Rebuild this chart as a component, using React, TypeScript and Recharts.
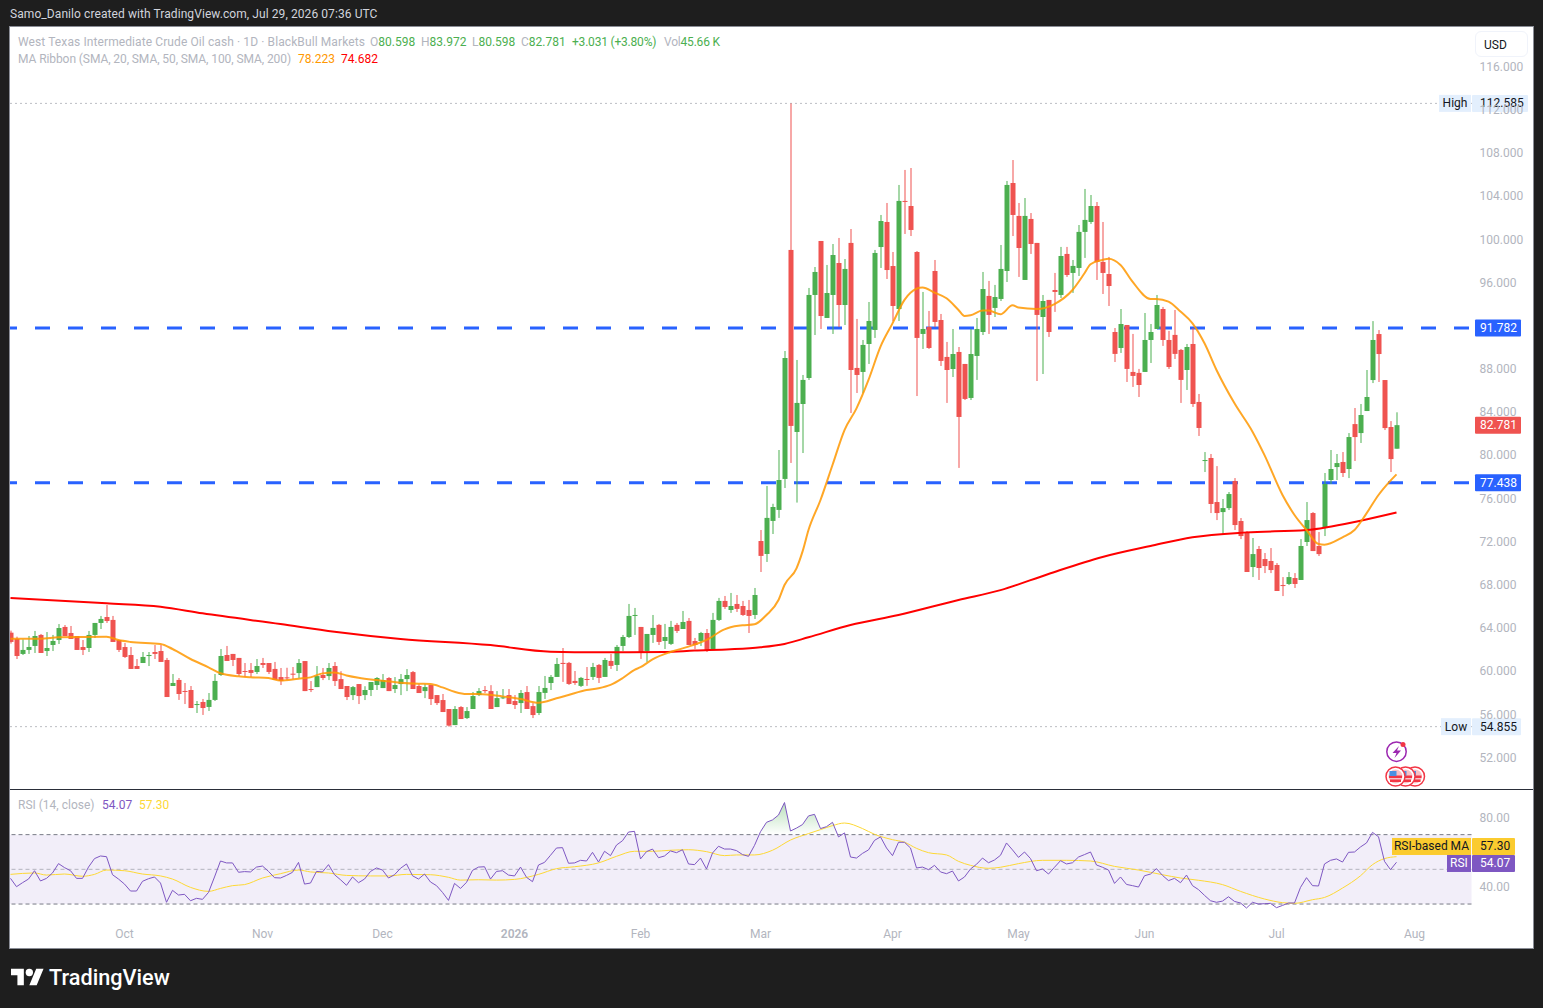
import {
  Area,
  Bar,
  ComposedChart,
  Line,
  ReferenceArea,
  ReferenceLine,
  XAxis,
  YAxis,
} from 'recharts';

// WTI daily candles
const opens = [
  63.56,62.98,61.59,61.96,62.33,63.35,61.86,62.42,62.88,64.09,
  63.53,63.25,62.23,62.14,63.35,64.46,65.01,64.74,62.88,62.23,
  61.49,60.47,60.75,61.40,61.77,61.86,61.03,58.62,59.18,58.16,
  58.25,56.89,57.14,56.68,57.33,59.64,61.49,61.59,61.22,60.01,
  60.10,59.92,60.75,60.75,60.20,59.45,59.42,59.76,59.82,60.93,
  58.34,58.52,59.64,59.54,60.47,59.26,58.62,57.78,58.80,57.78,
  58.25,58.71,58.43,59.36,58.34,58.80,59.26,59.91,58.62,58.15,
  58.71,57.78,57.32,56.49,55.00,56.67,55.65,56.49,57.78,58.25,
  58.15,56.67,57.50,57.78,57.23,57.04,58.06,56.76,56.12,57.98,
  58.90,59.46,60.76,60.76,59.09,58.63,59.27,59.46,60.57,59.46,
  60.94,60.57,62.33,63.16,65.14,64.09,61.87,63.35,64.28,62.79,
  62.52,64.28,63.90,64.65,62.79,62.79,63.53,62.05,64.74,66.50,
  65.66,66.22,66.03,65.66,65.20,72.05,70.85,73.91,74.93,77.80,
  99.01,82.15,84.74,87.15,94.84,99.84,92.71,94.84,97.80,93.91,
  99.66,88.08,87.71,90.30,91.60,99.28,101.60,97.52,93.54,103.55,
  103.08,98.82,91.23,91.87,97.06,92.52,89.10,87.98,89.56,88.45,
  85.30,89.19,91.41,94.75,93.64,94.47,97.06,105.21,102.16,96.23,
  101.88,99.66,92.80,94.38,95.30,94.84,98.64,96.88,97.34,100.68,
  101.60,103.08,97.90,96.78,91.41,89.93,92.06,87.71,87.62,87.71,
  90.67,91.69,93.54,90.67,91.14,89.75,87.89,90.30,84.93,79.46,
  79.74,75.66,74.73,75.10,77.61,73.90,72.88,69.64,71.31,70.38,
  70.20,69.83,67.97,68.07,68.62,68.44,71.96,74.64,71.59,73.25,
  77.70,78.90,79.37,78.72,82.88,82.05,84.09,86.96,91.22,86.96,
  82.61,80.598,
];

const closes = [
  62.70,61.40,61.96,62.23,63.25,61.68,62.14,62.79,63.99,63.25,
  62.98,61.96,61.96,63.35,64.46,64.83,64.64,62.70,61.96,61.31,
  60.20,60.20,61.31,61.49,61.59,60.85,57.60,58.90,57.88,58.07,
  56.58,56.95,56.58,57.33,59.09,61.40,60.94,61.03,59.73,59.92,
  59.83,60.47,60.57,59.92,59.18,59.08,59.36,59.70,60.75,58.15,
  58.25,59.54,59.36,60.29,59.08,58.34,57.60,58.52,57.69,58.25,
  58.99,59.36,59.17,58.15,58.71,59.26,59.64,58.34,57.97,58.52,
  57.41,57.04,56.21,54.95,56.49,55.56,56.30,57.69,58.15,58.15,
  56.49,57.50,57.57,56.95,56.86,57.97,56.49,55.93,58.06,58.44,
  59.46,60.66,60.66,58.81,58.90,59.37,59.21,60.38,59.37,61.03,
  60.48,62.24,63.16,65.11,65.20,61.77,63.44,64.00,62.70,63.16,
  64.09,63.72,64.55,62.42,62.42,63.53,61.96,64.74,66.50,65.94,
  66.03,65.76,65.20,65.11,67.05,70.67,74.19,75.20,77.70,89.00,
  82.71,84.84,86.97,94.84,96.97,92.89,95.02,98.54,93.91,97.25,
  87.89,87.43,90.21,92.43,98.73,101.69,97.15,93.82,103.55,103.48,
  100.86,90.86,91.69,89.93,92.34,88.73,87.89,89.37,83.54,85.21,
  89.37,91.69,95.39,92.99,94.65,97.25,105.03,102.25,99.19,102.16,
  99.56,92.99,94.28,91.41,95.12,98.45,96.69,97.53,100.68,101.79,
  103.08,97.90,96.88,95.67,89.38,92.15,87.99,87.34,86.50,90.67,
  91.41,93.91,90.67,88.17,89.38,86.97,90.02,84.74,82.52,79.55,
  75.48,74.64,75.10,76.40,73.53,72.51,69.18,70.84,69.55,69.73,
  69.36,67.42,67.91,68.71,68.07,71.59,73.99,71.12,70.84,77.33,
  78.72,79.27,78.35,81.68,81.68,83.72,85.39,90.67,89.37,82.51,
  79.64,82.781,
];

const highs = [
  63.75,63.19,62.94,63.25,63.72,63.44,63.62,63.35,64.36,64.27,
  64.18,63.25,62.88,63.72,64.46,65.11,66.12,65.11,62.88,62.60,
  62.23,61.12,61.77,61.77,62.42,62.42,61.22,59.73,59.36,58.90,
  58.62,57.23,57.42,57.97,59.73,62.05,62.33,61.59,61.22,60.75,
  60.75,61.12,61.22,60.75,60.85,60.29,60.31,60.38,61.12,60.93,
  59.08,60.47,60.29,60.75,60.84,59.99,58.62,58.62,58.80,58.60,
  58.99,59.45,59.73,59.45,59.45,59.73,60.19,60.01,58.80,58.80,
  58.71,57.78,57.88,56.49,56.76,56.76,56.67,58.06,58.43,58.62,
  58.70,58.15,58.34,58.34,57.78,58.25,58.62,57.04,58.62,59.55,
  59.64,61.22,62.14,60.85,60.01,59.46,60.38,60.76,60.66,61.22,
  61.59,62.42,63.35,66.22,65.85,64.09,63.44,65.20,64.37,64.37,
  64.65,64.46,65.57,64.92,63.07,63.63,63.90,65.39,66.78,66.96,
  67.24,67.05,66.50,66.59,67.70,73.07,77.15,75.50,80.48,89.65,
  112.585,88.82,87.43,95.49,97.43,99.84,97.62,99.56,100.12,98.17,
  100.95,92.62,90.67,94.19,99.01,102.25,103.36,98.82,105.03,106.42,
  106.60,98.91,95.12,93.36,98.08,93.08,90.49,91.69,90.02,88.45,
  91.69,92.71,96.97,96.14,95.77,99.47,105.40,107.34,103.36,103.82,
  102.43,99.66,94.84,94.38,96.88,99.29,99.29,98.08,101.32,104.66,
  104.10,103.45,101.60,98.36,91.78,93.54,92.06,91.23,87.99,93.17,
  92.15,94.84,93.73,91.51,93.45,89.84,90.30,91.78,85.67,80.29,
  80.11,78.99,75.94,76.59,77.88,74.18,72.97,72.33,71.59,70.94,
  71.40,70.01,68.71,69.18,69.08,72.23,75.66,74.73,72.88,78.35,
  80.48,80.11,80.29,82.05,84.37,84.74,87.89,92.42,91.59,86.96,
  83.16,83.972,
];

const lows = [
  62.55,61.12,61.49,61.59,61.68,61.68,61.40,61.86,62.51,63.25,
  62.98,61.96,61.49,61.77,63.07,63.90,64.46,62.70,61.77,61.22,
  60.20,60.20,60.75,60.47,61.12,60.85,57.60,58.62,57.33,56.95,
  56.58,56.12,55.94,56.31,57.23,59.55,60.94,60.47,59.55,59.46,
  59.46,59.73,60.29,59.73,59.18,58.71,59.17,59.26,59.36,58.15,
  58.06,58.52,59.17,59.17,58.62,58.34,57.32,57.32,56.95,57.32,
  57.69,58.25,58.43,58.15,57.97,57.78,58.15,58.34,57.97,57.50,
  56.86,56.86,56.21,54.855,55.00,55.56,55.56,56.49,57.69,57.97,
  56.49,56.67,57.41,56.95,56.49,56.12,56.49,55.65,55.93,57.42,
  58.25,59.46,59.00,58.72,58.72,58.53,58.63,59.18,58.90,59.46,
  60.20,60.01,61.87,63.07,63.35,61.13,60.85,62.61,62.42,62.05,
  62.42,63.53,63.90,62.42,62.05,62.33,61.77,61.96,64.65,65.76,
  65.39,65.48,65.11,63.53,64.83,69.18,70.11,72.70,74.19,76.96,
  79.28,75.61,80.20,86.97,91.13,91.69,92.71,91.23,91.87,92.06,
  83.91,85.76,85.76,88.45,90.86,97.34,96.32,92.43,92.43,100.49,
  100.30,85.48,89.84,89.84,91.87,88.26,84.84,87.24,78.82,85.11,
  85.11,86.97,91.13,91.23,92.80,94.28,96.04,100.30,96.51,96.23,
  98.64,86.87,87.52,90.95,93.27,94.56,96.51,95.03,96.60,98.27,
  101.42,96.23,94.93,93.82,88.63,89.47,86.78,86.32,85.39,87.71,
  88.54,91.69,90.12,87.99,88.91,84.84,86.04,84.47,81.78,78.44,
  74.64,73.99,72.70,74.92,73.07,72.23,69.18,68.71,68.44,69.08,
  69.08,67.42,66.95,67.97,67.70,68.44,71.59,71.12,70.66,72.51,
  77.33,77.70,77.98,77.88,79.46,81.13,84.09,86.68,86.78,82.33,
  78.44,80.598,
];

const rsi = [
  44.8,40.0,42.3,44.4,49.2,43.3,44.8,47.9,53.3,51.0,
  49.2,44.8,44.8,51.3,56.2,57.7,57.3,46.9,44.4,41.5,
  37.5,37.5,43.1,44.6,45.6,42.1,31.0,37.9,35.2,35.6,
  31.9,33.3,32.7,36.7,45.6,54.8,53.7,53.7,48.3,48.7,
  48.5,51.3,51.9,48.8,45.2,45.0,46.5,48.3,54.0,41.5,
  42.1,48.8,48.5,52.7,46.9,44.0,40.8,45.6,42.3,44.4,
  48.8,50.8,49.6,45.0,46.9,50.6,53.1,46.3,44.4,47.3,
  42.7,40.6,36.7,32.1,41.9,39.0,42.5,49.4,51.3,51.5,
  44.4,48.8,49.2,46.7,46.2,51.3,45.4,42.9,52.5,54.0,
  58.1,62.3,62.5,53.5,53.7,55.2,54.8,59.8,54.2,60.4,
  57.9,64.0,66.5,71.5,71.9,56.0,60.2,61.7,56.7,57.7,
  60.6,59.6,61.3,53.1,52.7,56.5,50.2,59.4,63.3,61.7,
  61.7,60.8,58.5,57.5,63.8,71.7,77.1,78.5,81.3,88.5,
  72.1,73.8,75.8,80.8,81.7,73.5,74.6,77.1,68.7,71.0,
  57.1,56.5,59.2,61.2,66.7,68.7,62.3,57.9,65.6,65.6,
  62.3,50.8,51.3,49.8,52.3,48.5,47.5,49.0,43.3,45.6,
  50.2,52.9,56.5,53.8,55.4,58.1,65.2,61.2,56.9,60.0,
  56.2,49.2,50.2,47.3,51.2,55.0,53.1,53.8,57.1,58.5,
  60.0,52.5,51.2,49.6,41.9,45.6,41.3,40.6,39.8,46.3,
  47.3,50.4,46.5,43.5,44.8,42.3,46.7,40.6,38.3,35.0,
  31.9,31.0,31.7,34.2,31.5,30.6,27.7,31.0,30.0,30.2,
  30.4,27.9,29.2,30.6,30.6,39.6,45.2,40.6,40.4,53.1,
  55.2,56.0,54.2,59.8,60.0,62.9,65.2,71.3,68.8,54.6,
  49.8,54.07,
];

// moving averages, read at the bars where the curve could be measured
const ma20Bars = [
  0,5,8,16,18,20,25,27,30,33,35,38,40,43,45,48,50,52,54,56,58,61,65,68,70,72,74,76,78,82,85,88,
  91,93,96,98,100,102,104,105,107,110,113,116,119,120,122,124,126,128,129,131,132,133,135,137,
  139,141,143,145,147,149,150,152,154,156,158,159,160,162,163,165,167,168,171,174,177,179,180,
  182,183,185,187,190,191,193,195,197,199,201,204,207,209,212,214,216,218,219,222,224,226,228,230,231,
];
const ma20Values = [
  63.0,63.0,63.13,63.19,62.88,62.7,62.51,62.05,61.12,60.35,59.8,59.52,59.43,59.36,59.12,59.3,59.42,59.79,59.88,59.6,59.39,59.17,58.93,58.83,58.8,58.49,58.09,57.88,57.88,57.66,57.41,57.07,
  57.48,57.79,58.25,58.41,58.72,59.34,60.11,60.36,61.09,61.77,62.27,62.89,63.87,64.06,64.24,64.34,65.2,66.59,67.98,69.52,71.07,73.07,75.85,79.09,
  82.33,84.34,86.97,90.05,92.21,94.38,95.05,95.52,95.05,94.53,93.45,92.89,92.96,93.39,93.39,93.05,93.88,93.67,93.54,94.0,95.3,96.85,97.68,
  98.08,98.2,97.62,96.07,94.47,94.47,94.22,93.3,92.21,90.36,87.89,84.8,82.18,80.01,76.31,74.46,73.07,71.77,71.71,72.39,73.07,74.61,76.31,77.64,78.223,
];

const ma200Bars = [0,16,25,32,45,54,65,80,90,98,103,109,114,120,125,129,133,140,148,158,165,173,182,190,197,206,216,225,231];
const ma200Values = [66.77,66.28,65.97,65.35,64.36,63.65,62.98,62.41,61.8,61.74,61.74,61.77,61.9,62.02,62.21,62.52,63.13,64.27,65.2,66.59,67.5,69.0,70.57,71.59,72.4,72.85,73.07,73.93,74.682];

const rsiMaBars = [
  0,4,6,9,12,14,16,19,22,25,27,30,33,35,37,39,42,45,48,50,53,56,60,63,66,70,73,75,78,81,
  84,88,91,94,98,101,104,107,110,113,116,119,121,124,127,130,133,135,137,139,142,144,147,149,151,153,156,158,160,163,
  165,168,172,176,180,184,188,192,195,198,202,205,209,212,214,217,219,222,225,227,229,231,
];
const rsiMaValues = [
  47.1,47.9,46.7,47.3,46.0,47.1,49.6,49.2,47.3,46.2,44.4,39.6,37.3,39.0,40.6,41.2,45.0,47.5,49.6,48.5,47.9,46.5,46.2,46.2,47.1,46.9,45.4,43.8,44.0,43.8,
  44.2,47.1,50.4,51.5,53.7,57.5,60.4,60.4,61.0,61.3,60.2,57.9,58.3,58.3,61.0,66.9,70.6,72.9,75.2,76.7,73.5,70.2,67.1,65.6,62.1,59.6,58.3,54.6,52.3,50.6,
  51.2,53.3,55.2,55.2,54.8,51.7,49.6,46.9,45.0,43.7,41.2,37.3,32.9,30.8,30.4,32.5,33.8,39.2,46.3,52.7,56.2,57.3,
];

const priceTicks = [52,56,60,64,68,72,76,80,84,88,96,100,104,108,112,116];
const rsiTicks = [40, 80];
const resistanceLevel = 91.782;
const supportLevel = 77.438;
const highLevel = 112.585;
const lowLevel = 54.855;
const lastClose = 82.781;
const lastRsi = 54.07;
const lastRsiMa = 57.3;
const monthBars = [19, 42, 62, 84, 105, 125, 147, 168, 189, 211, 234];
const monthLabels = ['Oct', 'Nov', 'Dec', '2026', 'Feb', 'Mar', 'Apr', 'May', 'Jun', 'Jul', 'Aug'];

const BAR_COUNT = 244; // includes the empty bars to the right of the last candle
const GREEN = '#4caf50';
const RED = '#ef5350';
const BLUE = '#2962ff';
const PURPLE = '#7e57c2';
const YELLOW = '#fdd835';
const GRAY = '#b2b5be';
const FONT = 'Roboto, "Noto Sans", sans-serif';

const rows = Array.from({ length: BAR_COUNT }, (_, i) => {
  const hasCandle = i < opens.length;
  const ma20At = ma20Bars.indexOf(i);
  const ma200At = ma200Bars.indexOf(i);
  const rsiMaAt = rsiMaBars.indexOf(i);
  return {
    i,
    open: hasCandle ? opens[i] : null,
    close: hasCandle ? closes[i] : null,
    range: hasCandle ? [lows[i], highs[i]] : null,
    high: hasCandle ? highs[i] : null,
    low: hasCandle ? lows[i] : null,
    ma20: ma20At >= 0 ? ma20Values[ma20At] : null,
    ma200: ma200At >= 0 ? ma200Values[ma200At] : null,
    rsi: hasCandle ? rsi[i] : null,
    rsiMa: rsiMaAt >= 0 ? rsiMaValues[rsiMaAt] : null,
  };
});

// where the 70 line falls inside the bounding box of the RSI area
const rsiTop = Math.max(...rsi);
const rsiBottom = Math.min(...rsi);
const overboughtStop = (rsiTop - 70) / (rsiTop - rsiBottom);

function Candle(props: any) {
  const { x, y, width, height, payload } = props;
  if (!payload || payload.open == null || !height) return null;
  const perUnit = height / (payload.high - payload.low);
  const bodyHigh = Math.max(payload.open, payload.close);
  const bodyLow = Math.min(payload.open, payload.close);
  const top = y + (payload.high - bodyHigh) * perUnit;
  const bodyHeight = Math.max((bodyHigh - bodyLow) * perUnit, 1);
  const fill = payload.close >= payload.open ? GREEN : RED;
  return (
    <g>
      <rect x={x + width / 2 - 0.5} y={y} width={1} height={height} fill={fill} />
      <rect x={x} y={top} width={width} height={bodyHeight} fill={fill} />
    </g>
  );
}

function PriceTag({ viewBox, text, title, fill, color = '#fff', left = 1475, right = 1521, titleLeft = 0, shift = 0 }: any) {
  const y = (viewBox?.y ?? 0) + shift;
  return (
    <g fontFamily={FONT} fontSize={12}>
      {title && <rect x={titleLeft} y={y - 8.5} width={left - titleLeft - 1} height={17} fill={fill} />}
      {title && (
        <text x={(titleLeft + left - 1) / 2} y={y + 4} textAnchor="middle" fill={color}>
          {title}
        </text>
      )}
      <rect x={left} y={y - 8.5} width={right - left} height={17} fill={fill} rx={1} />
      <text x={1480} y={y + 4} fill={color}>
        {text}
      </text>
    </g>
  );
}

function MonthTick({ x, y, payload }: any) {
  const label = monthLabels[monthBars.indexOf(payload.value)];
  return (
    <text
      x={x}
      y={y}
      dy={4}
      textAnchor="middle"
      fontFamily={FONT}
      fontSize={12}
      fontWeight={label === '2026' ? 600 : 400}
      fill={GRAY}
    >
      {label}
    </text>
  );
}

function Label({ x, y, color = GRAY, children, size = 12, spacing = 0 }: any) {
  return (
    <div
      style={{
        position: 'absolute',
        left: x,
        top: y,
        color,
        fontFamily: FONT,
        fontSize: size,
        letterSpacing: spacing,
        lineHeight: '16px',
        whiteSpace: 'nowrap',
      }}
    >
      {children}
    </div>
  );
}

function EventIcons() {
  const flags = [1415, 1405.5, 1395.5];
  return (
    <svg width={1543} height={1008} style={{ position: 'absolute', left: 0, top: 0, pointerEvents: 'none' }}>
      <circle cx={1396.5} cy={751.7} r={9.7} fill="#fff" stroke="#9c27b0" strokeWidth={1.5} />
      <path d="M1399 746 L1392.5 753 L1396.5 753 L1394.5 758 L1401 750.5 L1397 750.5 Z" fill="#9c27b0" />
      <circle cx={1403} cy={744.5} r={2.5} fill="#f23645" />
      {flags.map((cx) => (
        <g key={cx}>
          <circle cx={cx} cy={776.5} r={9.5} fill="#fff" stroke="#f23645" strokeWidth={1.5} />
          <circle cx={cx} cy={776.5} r={7} fill="#f9c0c5" />
          <rect x={cx - 6.5} y={775.5} width={13} height={2.5} fill="#f23645" />
          <rect x={cx - 5.5} y={779.5} width={11} height={2.5} fill="#f23645" />
          <rect x={cx - 6} y={771} width={7} height={5} fill="#4a90e2" />
        </g>
      ))}
    </svg>
  );
}

export default function App() {
  return (
    <div style={{ position: 'absolute', left: 0, top: 0, width: 1543, height: 1008, background: '#1e1e1e', overflow: 'hidden' }}>
      <Label x={10} y={6} color="#d1d4dc" spacing={0.08}>
        Samo_Danilo created with TradingView.com, Jul 29, 2026 07:36 UTC
      </Label>

      {/* pane frame */}
      <div
        style={{
          position: 'absolute',
          left: 10,
          top: 27,
          width: 1523,
          height: 921,
          background: '#fff',
          boxShadow: '0 0 0 1px #8a8d96',
          overflow: 'hidden',
        }}
      >
        <div style={{ position: 'absolute', left: -10, top: -27 }}>
          <ComposedChart
            width={1543}
            height={789}
            data={rows}
            barSize={5}
            barCategoryGap={0}
            margin={{ top: 27, right: 0, bottom: 0, left: 7.5 }}
          >
            <XAxis dataKey="i" type="category" scale="band" hide />
            <YAxis
              orientation="right"
              width={71.5}
              domain={[49.08, 119.66]}
              allowDataOverflow
              ticks={priceTicks}
              tickFormatter={(value) => Number(value).toFixed(3)}
              axisLine={false}
              tickLine={false}
              tickMargin={2}
              tick={{ fill: GRAY, fontSize: 12, fontFamily: FONT }}
            />
            <ReferenceLine
              y={highLevel}
              zIndex={100}
              stroke="#787b86"
              strokeDasharray="1 4"
              label={<PriceTag text="112.585" title="High" titleLeft={1439} left={1472} right={1528} fill="#e3effd" color="#131722" />}
            />
            <ReferenceLine
              y={lowLevel}
              zIndex={100}
              stroke="#787b86"
              strokeDasharray="1 4"
              label={<PriceTag text="54.855" title="Low" titleLeft={1441} left={1472} right={1521} fill="#e3effd" color="#131722" />}
            />
            <ReferenceLine
              y={resistanceLevel}
              zIndex={100}
              stroke={BLUE}
              strokeWidth={3}
              strokeDasharray="15 18"
              strokeDashoffset={-2.5}
              label={<PriceTag text="91.782" fill={BLUE} />}
            />
            <ReferenceLine
              y={supportLevel}
              zIndex={100}
              stroke={BLUE}
              strokeWidth={3}
              strokeDasharray="15 18"
              strokeDashoffset={-2.5}
              label={<PriceTag text="77.438" fill={BLUE} />}
            />
            <ReferenceLine y={lastClose} stroke="none" label={<PriceTag text="82.781" fill={RED} />} />
            <Bar dataKey="range" shape={<Candle />} isAnimationActive={false} />
            <Line dataKey="ma200" type="monotone" stroke="#ff0000" strokeWidth={2} dot={false} connectNulls isAnimationActive={false} />
            <Line dataKey="ma20" type="monotone" stroke="#ff9800" strokeWidth={2} strokeOpacity={0.85} dot={false} connectNulls isAnimationActive={false} />
          </ComposedChart>
        </div>

        <div style={{ position: 'absolute', left: -10, top: 789 - 27, width: 1543, borderTop: '1px solid #2a2e39' }} />

        <div style={{ position: 'absolute', left: -10, top: 790 - 27 }}>
          <ComposedChart
            width={1543}
            height={158}
            data={rows}
            margin={{ top: 0, right: 0, bottom: 0, left: 7.5 }}
          >
            <defs>
              <linearGradient id="overbought" x1="0" y1="0" x2="0" y2="1">
                <stop offset={0} stopColor={GREEN} stopOpacity={0.65} />
                <stop offset={overboughtStop} stopColor={GREEN} stopOpacity={0} />
                <stop offset={1} stopColor={GREEN} stopOpacity={0} />
              </linearGradient>
            </defs>
            <XAxis
              dataKey="i"
              type="category"
              scale="band"
              height={28}
              ticks={monthBars}
              interval={0}
              axisLine={false}
              tickLine={false}
              tickMargin={8}
              tick={<MonthTick />}
            />
            <YAxis
              orientation="right"
              width={71.5}
              domain={[20.8, 95.73]}
              allowDataOverflow
              ticks={rsiTicks}
              tickFormatter={(value) => Number(value).toFixed(2)}
              axisLine={false}
              tickLine={false}
              tickMargin={2}
              tick={{ fill: GRAY, fontSize: 12, fontFamily: FONT }}
            />
            <ReferenceArea y1={30} y2={70} fill={PURPLE} fillOpacity={0.1} stroke="none" />
            <ReferenceLine y={70} stroke="#787b86" strokeDasharray="4 3" />
            <ReferenceLine y={50} stroke="#787b86" strokeOpacity={0.5} strokeDasharray="4 3" />
            <ReferenceLine y={30} stroke="#787b86" strokeDasharray="4 3" />
            <Area dataKey="rsi" baseValue={70} stroke="none" fill="url(#overbought)" isAnimationActive={false} />
            <Line dataKey="rsiMa" type="monotone" stroke={YELLOW} strokeWidth={1} dot={false} connectNulls isAnimationActive={false} />
            <Line dataKey="rsi" type="linear" stroke={PURPLE} strokeWidth={1} dot={false} isAnimationActive={false} />
            <ReferenceLine
              y={lastRsiMa}
              stroke="none"
              label={<PriceTag text="57.30" title="RSI-based MA" titleLeft={1392} left={1472} right={1515} fill="#fbcb2f" color="#131722" shift={-10.2} />}
            />
            <ReferenceLine
              y={lastRsi}
              stroke="none"
              label={<PriceTag text="54.07" title="RSI" titleLeft={1447} left={1472} right={1515} fill={PURPLE} shift={1.2} />}
            />
          </ComposedChart>
        </div>
      </div>

      <EventIcons />

      {/* legends */}
      <Label x={18} y={34} spacing={0.1}>West Texas Intermediate Crude Oil cash · 1D · BlackBull Markets</Label>
      <Label x={370} y={34}>O<span style={{ color: GREEN }}>80.598</span></Label>
      <Label x={421} y={34}>H<span style={{ color: GREEN }}>83.972</span></Label>
      <Label x={472} y={34}>L<span style={{ color: GREEN }}>80.598</span></Label>
      <Label x={521} y={34}>C<span style={{ color: GREEN }}>82.781</span></Label>
      <Label x={572} y={34} color={GREEN} spacing={-0.2}>+3.031 (+3.80%)</Label>
      <Label x={664} y={34} spacing={-0.2}>Vol<span style={{ color: GREEN }}>45.66 K</span></Label>
      <Label x={18} y={51} spacing={-0.08}>MA Ribbon (SMA, 20, SMA, 50, SMA, 100, SMA, 200)</Label>
      <Label x={298} y={51} color="#ff9800">78.223</Label>
      <Label x={341} y={51} color="#ff0000">74.682</Label>
      <Label x={18} y={797}>RSI (14, close)</Label>
      <Label x={102} y={797} color={PURPLE}>54.07</Label>
      <Label x={139} y={797} color={YELLOW}>57.30</Label>

      {/* currency button */}
      <div
        style={{
          position: 'absolute',
          left: 1475,
          top: 31,
          width: 53,
          height: 26,
          boxSizing: 'border-box',
          border: '1px solid #f0f3fa',
          borderRadius: 6,
          background: '#fff',
          color: '#131722',
          fontFamily: FONT,
          fontSize: 12,
          lineHeight: '26px',
          paddingLeft: 8,
        }}
      >
        USD
      </div>

      {/* logo */}
      <svg width={33} height={26} viewBox="0 0 36 28" style={{ position: 'absolute', left: 11, top: 965 }}>
        <path d="M14 22H7V11H0V4h14v18zM28 22h-8l7.5-18h8L28 22z" fill="#fff" />
        <circle cx={20} cy={8} r={4} fill="#fff" />
      </svg>
      <div
        style={{
          position: 'absolute',
          left: 49,
          top: 965,
          color: '#fff',
          fontFamily: FONT,
          fontSize: 21.7,
          fontWeight: 500,
          lineHeight: '26px',
        }}
      >
        TradingView
      </div>
    </div>
  );
}
